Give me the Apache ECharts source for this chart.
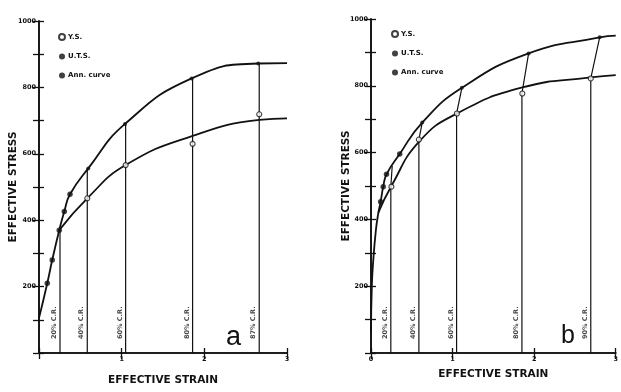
<!DOCTYPE html>
<html><head><meta charset="utf-8">
<script src="https://cdn.jsdelivr.net/npm/echarts@6/dist/echarts.min.js"></script>
<style>html,body{margin:0;padding:0;background:#fff}#c{width:621px;height:392px}</style>
</head><body><div id="c"></div>
<script>
// ---- Panel a data ----
var aUpperCurve = [[0,105],[0.1,210],[0.16,280],[0.245,370],[0.306,426],[0.375,478],[0.596,556],[1.04,690],[1.846,827],[2.652,872],[3.0,873]];
var aLowerCurve = [[0.245,370],[0.584,466],[1.048,566],[1.858,654],[2.664,702],[3.0,707]];
var aAnnPoints = [[0.1,210],[0.16,280],[0.245,370],[0.306,426],[0.375,478]];
var aUTSPoints = [[0.596,556],[1.04,690],[1.846,827],[2.652,872]];
var aYSPoints = [[0.584,466],[1.048,566],[1.858,630],[2.664,719]];
var aCRStrain = [0.254,0.584,1.048,1.858,2.664];
var aCRTop = [370,556,690,827,872];
var aCRLabels = ['20% C.R.','40% C.R.','60% C.R.','80% C.R.','87% C.R.'];

// ---- Panel b data ----
var bUpperCurve = [[0,60],[0.01,200],[0.028,278],[0.06,368],[0.089,418],[0.118,453],[0.15,498],[0.19,535],[0.352,596],[0.628,690],[1.114,794],[1.932,897],[2.803,945],[3.0,950]];
var bLowerCurve = [[0.09,420],[0.25,500],[0.587,632],[1.053,717],[1.855,795],[2.694,825],[3.0,832]];
var bAnnPoints = [[0.118,453],[0.15,498],[0.19,535],[0.352,596]];
var bUTSPoints = [[0.628,690],[1.114,794],[1.932,897],[2.803,945]];
var bYSPoints = [[0.25,498],[0.587,639],[1.053,717],[1.855,777],[2.694,822]];
var bCRStrain = [0.243,0.587,1.049,1.85,2.694];
var bCRYS = [498,639,717,777,822];
var bCRTopStrain = [0.26,0.628,1.114,1.932,2.803];
var bCRTop = [560,690,794,897,945];
var bCRLabels = ['20% C.R.','40% C.R.','60% C.R.','80% C.R.','90% C.R.'];

var yTicks = [200,400,600,800,1000];

var chart = echarts.init(document.getElementById('c'), null, {renderer:'canvas'});
var FONT = 'DejaVu Sans';
var BLACK = '#111';

function yAxes(gi, nameGap){
  return [{
    gridIndex: gi, type:'value', min:0, max:1000, interval:100, position:'left',
    name:'EFFECTIVE STRESS', nameLocation:'middle', nameGap:nameGap, nameRotate:90, nameMoveOverlap:false,
    nameTextStyle:{fontFamily:FONT, fontWeight:'bold', fontSize:10.5, color:BLACK},
    axisLine:{show:true, lineStyle:{color:BLACK, width:1.6}},
    axisTick:{show:true, inside:true, length:5, lineStyle:{color:BLACK, width:1.3}},
    axisLabel:{fontFamily:FONT, fontWeight:'bold', fontSize:6.5, color:BLACK, margin:3,
      formatter:function(v){return yTicks.indexOf(v)>=0 ? String(v) : '';}},
    splitLine:{show:false}
  },{
    gridIndex: gi, type:'value', min:0, max:1000, interval:100, position:'right',
    axisLine:{show:true, lineStyle:{color:BLACK, width:1.6}},
    axisTick:{show:true, inside:true, length:6, lineStyle:{color:BLACK, width:1.3}},
    axisLabel:{show:false}, splitLine:{show:false}
  }];
}
function xAxes(gi, nameGap, showZero){
  return [{
    gridIndex: gi, type:'value', min:0, max:3, interval:1, position:'bottom',
    name:'EFFECTIVE STRAIN', nameLocation:'middle', nameGap:nameGap, nameMoveOverlap:false,
    nameTextStyle:{fontFamily:FONT, fontWeight:'bold', fontSize:10.5, color:BLACK},
    axisLine:{show:true, lineStyle:{color:BLACK, width:1.6}},
    axisTick:{show:true, inside:true, length:5, lineStyle:{color:BLACK, width:1.3}},
    axisLabel:{fontFamily:FONT, fontWeight:'bold', fontSize:6.5, color:BLACK, margin:3,
      formatter:function(v){return (v===0 && !showZero) ? '' : String(v);}},
    splitLine:{show:false}
  },{
    gridIndex: gi, type:'value', min:0, max:3, interval:1, position:'top',
    axisLine:{show:true, lineStyle:{color:BLACK, width:1.6}},
    axisTick:{show:true, inside:true, length:6, lineStyle:{color:BLACK, width:1.3}},
    axisLabel:{show:false}, splitLine:{show:false}
  }];
}

var series = [];
function curve(data, xi, yi){
  series.push({type:'line', xAxisIndex:xi, yAxisIndex:yi, data:data, smooth:0.5,
    showSymbol:false, silent:true, lineStyle:{color:BLACK, width:1.8}, z:3});
}
function crLine(data, xi, yi){
  series.push({type:'line', xAxisIndex:xi, yAxisIndex:yi, data:data, showSymbol:false, silent:true,
    lineStyle:{color:BLACK, width:1.2}, z:2});
}
function pts(name, data, xi, yi){
  var st = {
    'Y.S.': {symbol:'circle', symbolSize:5, itemStyle:{color:'#fff', borderColor:BLACK, borderWidth:1.1}},
    'U.T.S.': {symbol:'circle', symbolSize:4, itemStyle:{color:BLACK}},
    'Ann. curve': {symbol:'circle', symbolSize:5.5, itemStyle:{color:BLACK}}
  }[name];
  series.push({type:'scatter', name:name, xAxisIndex:xi, yAxisIndex:yi, data:data,
    symbol:st.symbol, symbolSize:st.symbolSize, itemStyle:st.itemStyle, z:5});
}
function crLabels(strains, labels, xi, yi){
  series.push({type:'scatter', xAxisIndex:xi, yAxisIndex:yi, silent:true, symbolSize:0,
    data: strains.map(function(s,i){return {value:[s,0], name:labels[i]};}),
    label:{show:true, formatter:'{b}', rotate:90, position:'insideBottom', align:'left', verticalAlign:'bottom',
      offset:[9,-2], fontFamily:FONT, fontWeight:'bold', fontSize:6.5, color:BLACK}, z:4});
}

// panel a (xAxis 0,1 ; yAxis 0,1)
curve(aUpperCurve, 0, 0);
curve(aLowerCurve, 0, 0);
aCRStrain.forEach(function(s,i){ crLine([[s,0],[s,aCRTop[i]]], 0, 0); });
crLabels(aCRStrain, aCRLabels, 0, 0);
pts('Y.S.', aYSPoints, 0, 0);
pts('U.T.S.', aUTSPoints, 0, 0);
pts('Ann. curve', aAnnPoints, 0, 0);

// panel b (xAxis 2,3 ; yAxis 2,3)
curve(bUpperCurve, 2, 2);
curve(bLowerCurve, 2, 2);
bCRStrain.forEach(function(s,i){ crLine([[s,0],[s,bCRYS[i]],[bCRTopStrain[i],bCRTop[i]]], 2, 2); });
crLabels(bCRStrain, bCRLabels, 2, 2);
pts('Y.S.', bYSPoints, 2, 2);
pts('U.T.S.', bUTSPoints, 2, 2);
pts('Ann. curve', bAnnPoints, 2, 2);

var legendCommon = {orient:'vertical', data:['Y.S.','U.T.S.','Ann. curve'], itemWidth:6, itemHeight:6, itemGap:12,
  selectedMode:false, textStyle:{fontFamily:FONT, fontWeight:'bold', fontSize:7, color:BLACK, padding:[0,0,0,-2]}, padding:0};

chart.setOption({
  backgroundColor:'#fff',
  animation:false,
  grid:[
    {left:39, top:21, width:248, height:332},
    {left:371, top:19, width:247, height:334}
  ],
  xAxis: xAxes(0, 22, false).concat(xAxes(1, 16, true)),
  yAxis: yAxes(0, 20).concat(yAxes(1, 19)),
  legend:[
    Object.assign({left:58, top:33}, legendCommon),
    Object.assign({left:391, top:30}, legendCommon)
  ],
  graphic:[
    {type:'text', left:226, top:324, style:{text:'a', font:'27px "Liberation Sans"', fill:BLACK}},
    {type:'text', left:561, top:324, style:{text:'b', font:'25px "Liberation Sans"', fill:BLACK}}
  ],
  series: series
});
</script></body></html>
